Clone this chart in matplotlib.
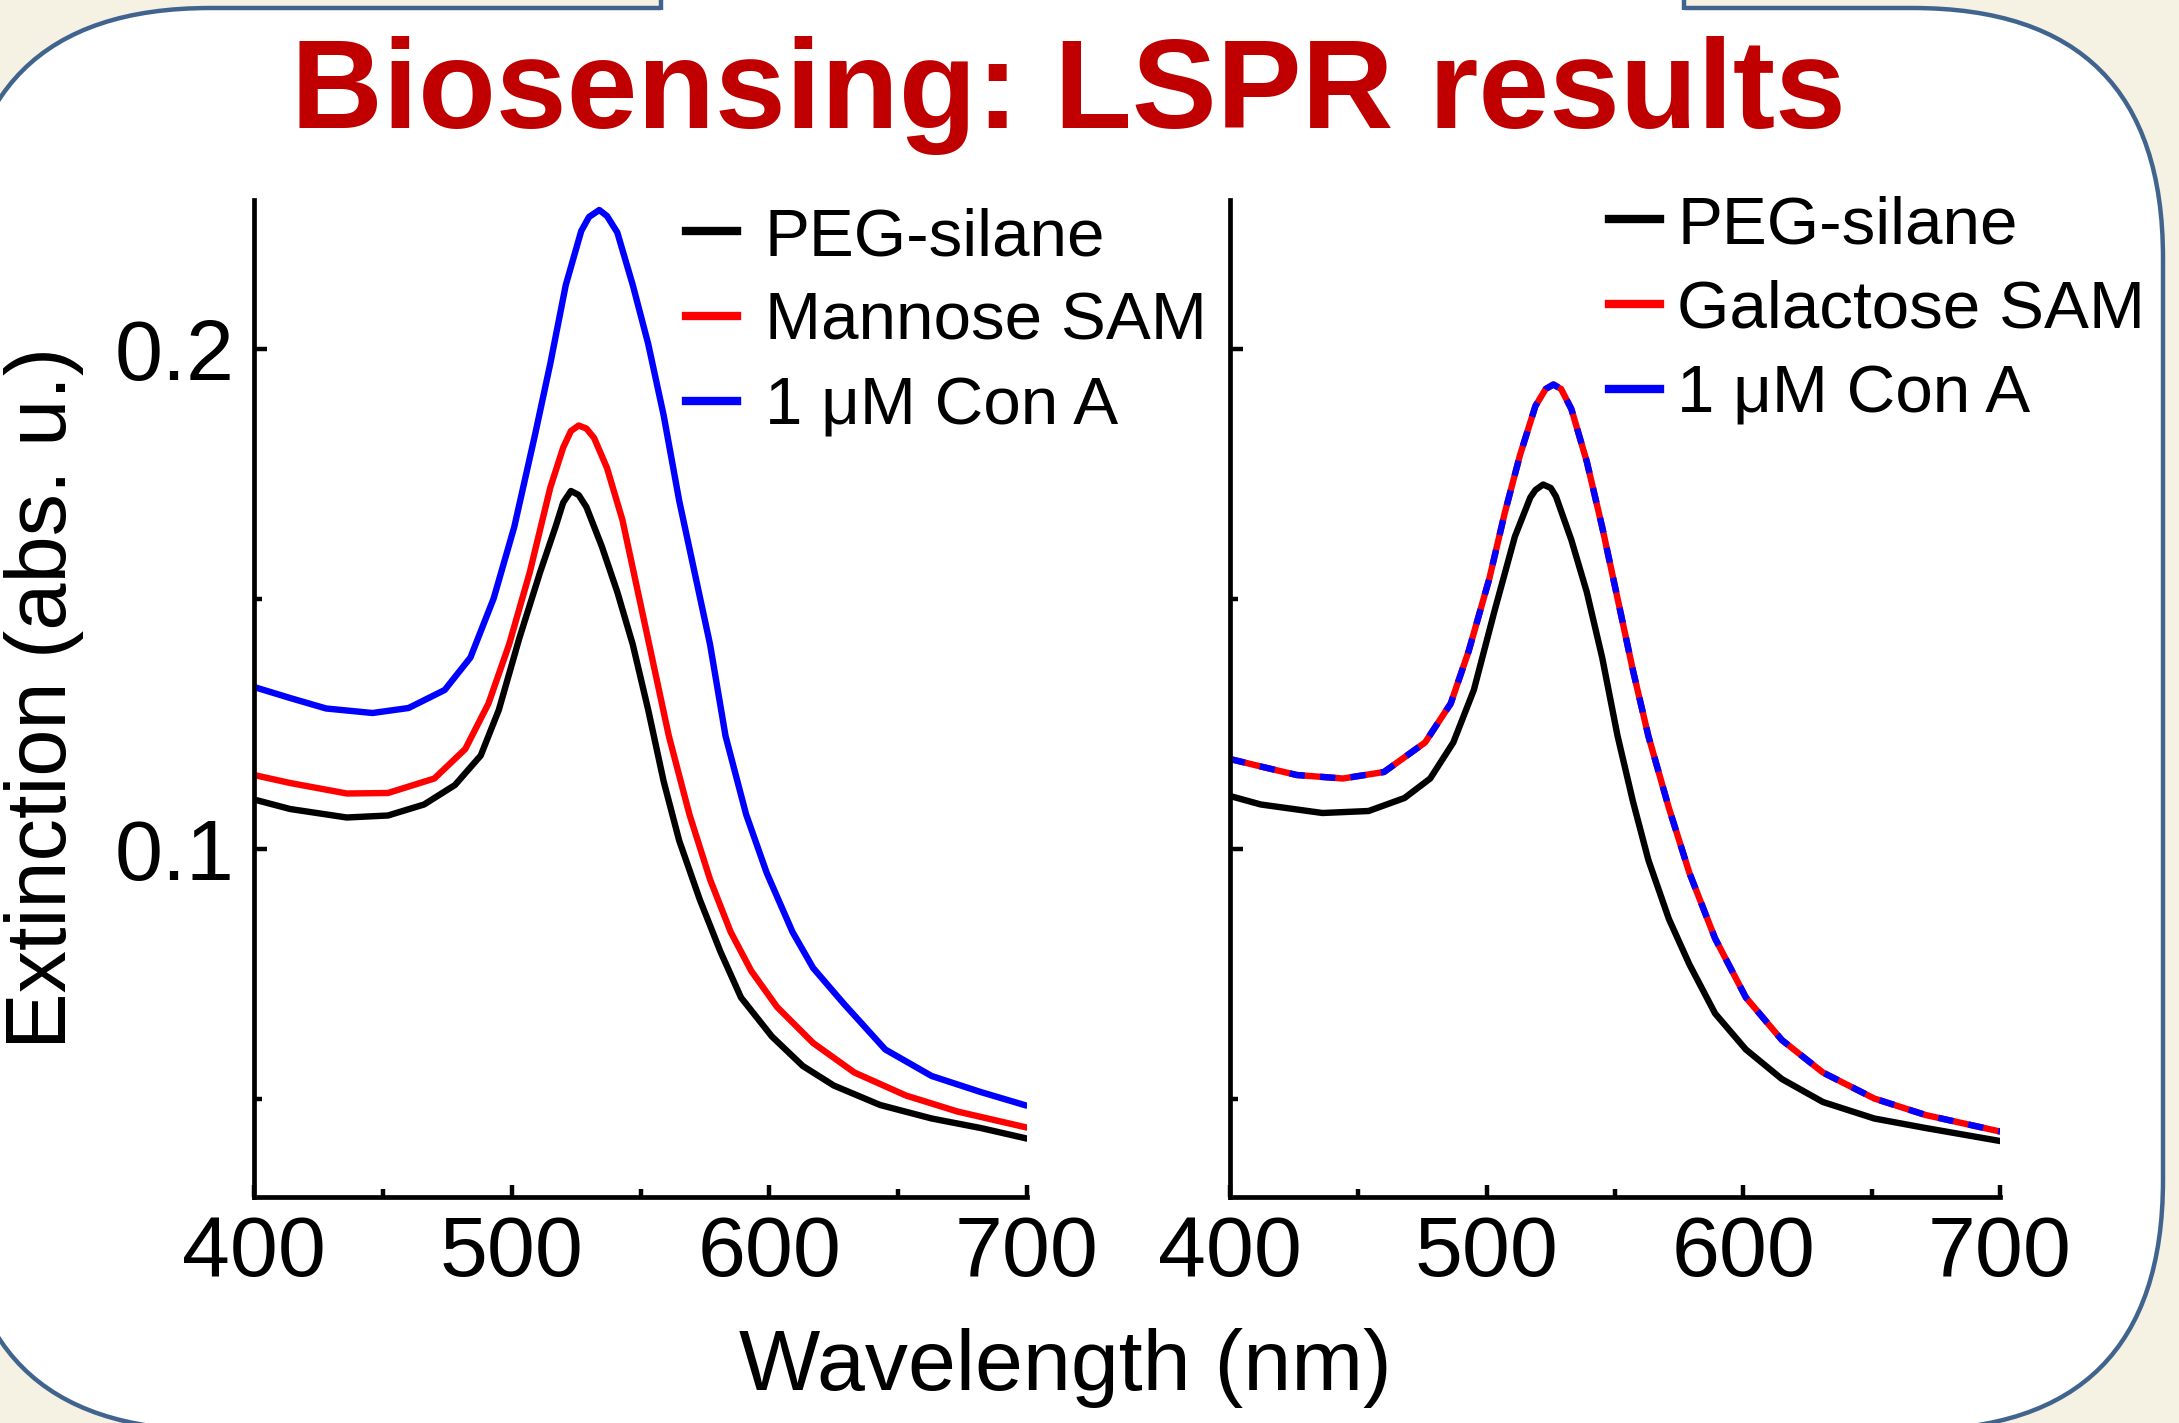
import matplotlib
matplotlib.use("Agg")
import matplotlib.pyplot as plt
from matplotlib.patches import FancyBboxPatch, Rectangle
from matplotlib.lines import Line2D
from matplotlib.ticker import MultipleLocator

plt.rcParams["font.family"] = ["Liberation Sans", "DejaVu Sans"]

# left panel: PEG-silane / Mannose SAM / 1 uM Con A
wl_l_peg = [400, 414, 436, 452, 466, 478, 488, 495, 503, 511, 517, 520, 523, 526, 529, 535,
            541, 547, 553, 559, 565, 573, 581, 589, 601, 613, 625, 643, 663, 682, 699]
ext_l_peg = [0.1099, 0.1080, 0.1063, 0.1067, 0.1089, 0.1128, 0.1187, 0.1278, 0.1422, 0.1553,
             0.1644, 0.1693, 0.1716, 0.1708, 0.1684, 0.1605, 0.1514, 0.1409, 0.1278, 0.1135,
             0.1017, 0.0899, 0.0795, 0.0703, 0.0625, 0.0566, 0.0527, 0.0488, 0.0461, 0.0442,
             0.0422]

wl_l_man = [400, 414, 436, 452, 470, 482, 491, 499, 507, 515, 520, 523, 526, 529, 532, 537,
            543, 549, 555, 561, 569, 577, 585, 593, 603, 617, 633, 653, 673, 699]
ext_l_man = [0.1148, 0.1132, 0.1111, 0.1112, 0.1141, 0.1200, 0.1291, 0.1409, 0.1553, 0.1723,
             0.1803, 0.1836, 0.1847, 0.1841, 0.1822, 0.1762, 0.1658, 0.1514, 0.1370, 0.1226,
             0.1069, 0.0939, 0.0834, 0.0756, 0.0684, 0.0612, 0.0553, 0.0507, 0.0475, 0.0444]

wl_l_con = [400, 414, 428, 446, 460, 474, 484, 493, 501, 509, 515, 521, 527, 530, 534, 537,
            541, 547, 553, 559, 565, 571, 577, 583, 591, 599, 609, 617, 629, 645, 663, 682, 699]
ext_l_con = [0.1324, 0.1302, 0.1281, 0.1272, 0.1282, 0.1318, 0.1383, 0.1501, 0.1644, 0.1827,
             0.1971, 0.2128, 0.2236, 0.2264, 0.2278, 0.2266, 0.2233, 0.2128, 0.2010, 0.1867,
             0.1697, 0.1553, 0.1409, 0.1226, 0.1069, 0.0952, 0.0834, 0.0762, 0.0690, 0.0599,
             0.0546, 0.0514, 0.0488]

# right panel: PEG-silane / Galactose SAM / 1 uM Con A (last two overlap)
wl_r_peg = [400, 412, 436, 454, 468, 478, 487, 495, 503, 511, 517, 519, 522, 525, 527, 533,
            539, 545, 551, 557, 563, 571, 579, 589, 601, 615, 631, 651, 671, 700]
ext_r_peg = [0.1106, 0.1089, 0.1072, 0.1076, 0.1102, 0.1141, 0.1213, 0.1318, 0.1475, 0.1625,
             0.1703, 0.1718, 0.1729, 0.1722, 0.1705, 0.1618, 0.1514, 0.1383, 0.1226, 0.1095,
             0.0978, 0.0860, 0.0769, 0.0671, 0.0599, 0.0540, 0.0494, 0.0461, 0.0442, 0.0416]

wl_r_gal = [400, 412, 426, 444, 460, 476, 486, 493, 501, 507, 513, 519, 523, 526, 529, 533,
            539, 545, 551, 557, 563, 571, 579, 589, 601, 615, 631, 651, 671, 700]
ext_r_gal = [0.1180, 0.1165, 0.1148, 0.1141, 0.1154, 0.1213, 0.1291, 0.1396, 0.1540, 0.1671,
             0.1788, 0.1886, 0.1920, 0.1929, 0.1920, 0.1880, 0.1775, 0.1644, 0.1501, 0.1357,
             0.1226, 0.1082, 0.0952, 0.0821, 0.0703, 0.0618, 0.0553, 0.0501, 0.0468, 0.0435]
wl_r_con = wl_r_gal
ext_r_con = ext_r_gal

labels_left = ["PEG-silane", "Mannose SAM", "1 \u03bcM Con A"]
labels_right = ["PEG-silane", "Galactose SAM", "1 \u03bcM Con A"]
xticks = [400, 500, 600, 700]
yticks = [0.1, 0.2]

W, H = 2179, 1423
fig = plt.figure(figsize=(W / 100, H / 100), dpi=100)
fig.patch.set_facecolor("#f5f2e4")

# slide background: rounded white panel with blue border
border = "#41648f"
bg = fig.add_axes([0, 0, 1, 1])
bg.set_xlim(0, W)
bg.set_ylim(H, 0)
bg.axis("off")
bg.add_patch(FancyBboxPatch((-40, 8), 2163 + 40, 1430 - 8,
                            boxstyle="round,pad=0,rounding_size=250",
                            fc="white", ec=border, lw=3.2))
bg.add_patch(Rectangle((661, -10), 1684 - 661, 24, fc="white", ec="none"))
bg.plot([661, 661], [-5, 9.5], color=border, lw=3.2, solid_capstyle="butt")
bg.plot([1684, 1684], [-5, 9.5], color=border, lw=3.2, solid_capstyle="butt")

fig.text(1068 / W, 1 - 128 / H, "Biosensing: LSPR results", ha="center", va="baseline",
         fontsize=91.5, fontweight="bold", color="#c00000")

y0, y1 = 1197, 200
ax_l = fig.add_axes([254 / W, 1 - y0 / H, (1027 - 254) / W, (y0 - y1) / H])
ax_r = fig.add_axes([1230 / W, 1 - y0 / H, (2000 - 1230) / W, (y0 - y1) / H])

lw = 4.6
ax_l.plot(wl_l_peg, ext_l_peg, color="black", lw=lw)
ax_l.plot(wl_l_man, ext_l_man, color="#ff0000", lw=lw)
ax_l.plot(wl_l_con, ext_l_con, color="#0000ff", lw=lw)

ax_r.plot(wl_r_peg, ext_r_peg, color="black", lw=lw)
ax_r.plot(wl_r_gal, ext_r_gal, color="#ff0000", lw=lw)
ax_r.plot(wl_r_con, ext_r_con, color="#0000ff", lw=lw, linestyle=(0, (2.4, 2.4)))

for ax in (ax_l, ax_r):
    ax.set_facecolor("none")
    ax.set_xlim(400, 700)
    ax.set_ylim(0.0304, 0.2298)
    ax.set_xticks(xticks)
    ax.set_yticks(yticks)
    ax.xaxis.set_minor_locator(MultipleLocator(50))
    ax.yaxis.set_minor_locator(MultipleLocator(0.05))
    for s in ("top", "right"):
        ax.spines[s].set_visible(False)
    for s in ("left", "bottom"):
        ax.spines[s].set_linewidth(3.4)
    ax.tick_params(which="major", direction="in", length=9, width=3.2, labelsize=62)
    ax.tick_params(which="minor", direction="in", length=6, width=3.2)
    ax.tick_params(axis="x", pad=12)
    ax.tick_params(axis="y", pad=14)
    ax.set_xticklabels([str(t) for t in xticks])

ax_l.set_yticklabels(["0.1", "0.2"])
ax_r.set_yticklabels([])

fig.text(44 / W, 1 - 698 / H, "Extinction (abs. u.)", rotation=90, ha="center", va="center",
         fontsize=61)
fig.text(1065 / W, 1 - 1390 / H, "Wavelength (nm)", ha="center", va="baseline", fontsize=62)

cols = ["black", "#ff0000", "#0000ff"]
handles = [Line2D([], [], color=c, lw=6) for c in cols]
leg_kw = dict(loc="upper left", bbox_transform=fig.transFigure, frameon=False, fontsize=48.5,
              handlelength=0.75, labelspacing=0.34, borderpad=0, borderaxespad=0)
ax_l.legend(handles, labels_left, bbox_to_anchor=(686 / W, 1 - 207 / H),
            handletextpad=0.42, **leg_kw)
ax_r.legend(handles, labels_right, bbox_to_anchor=(1609 / W, 1 - 195 / H),
            handletextpad=0.26, **leg_kw)

fig.savefig("out.png", dpi=100, facecolor=fig.get_facecolor())
